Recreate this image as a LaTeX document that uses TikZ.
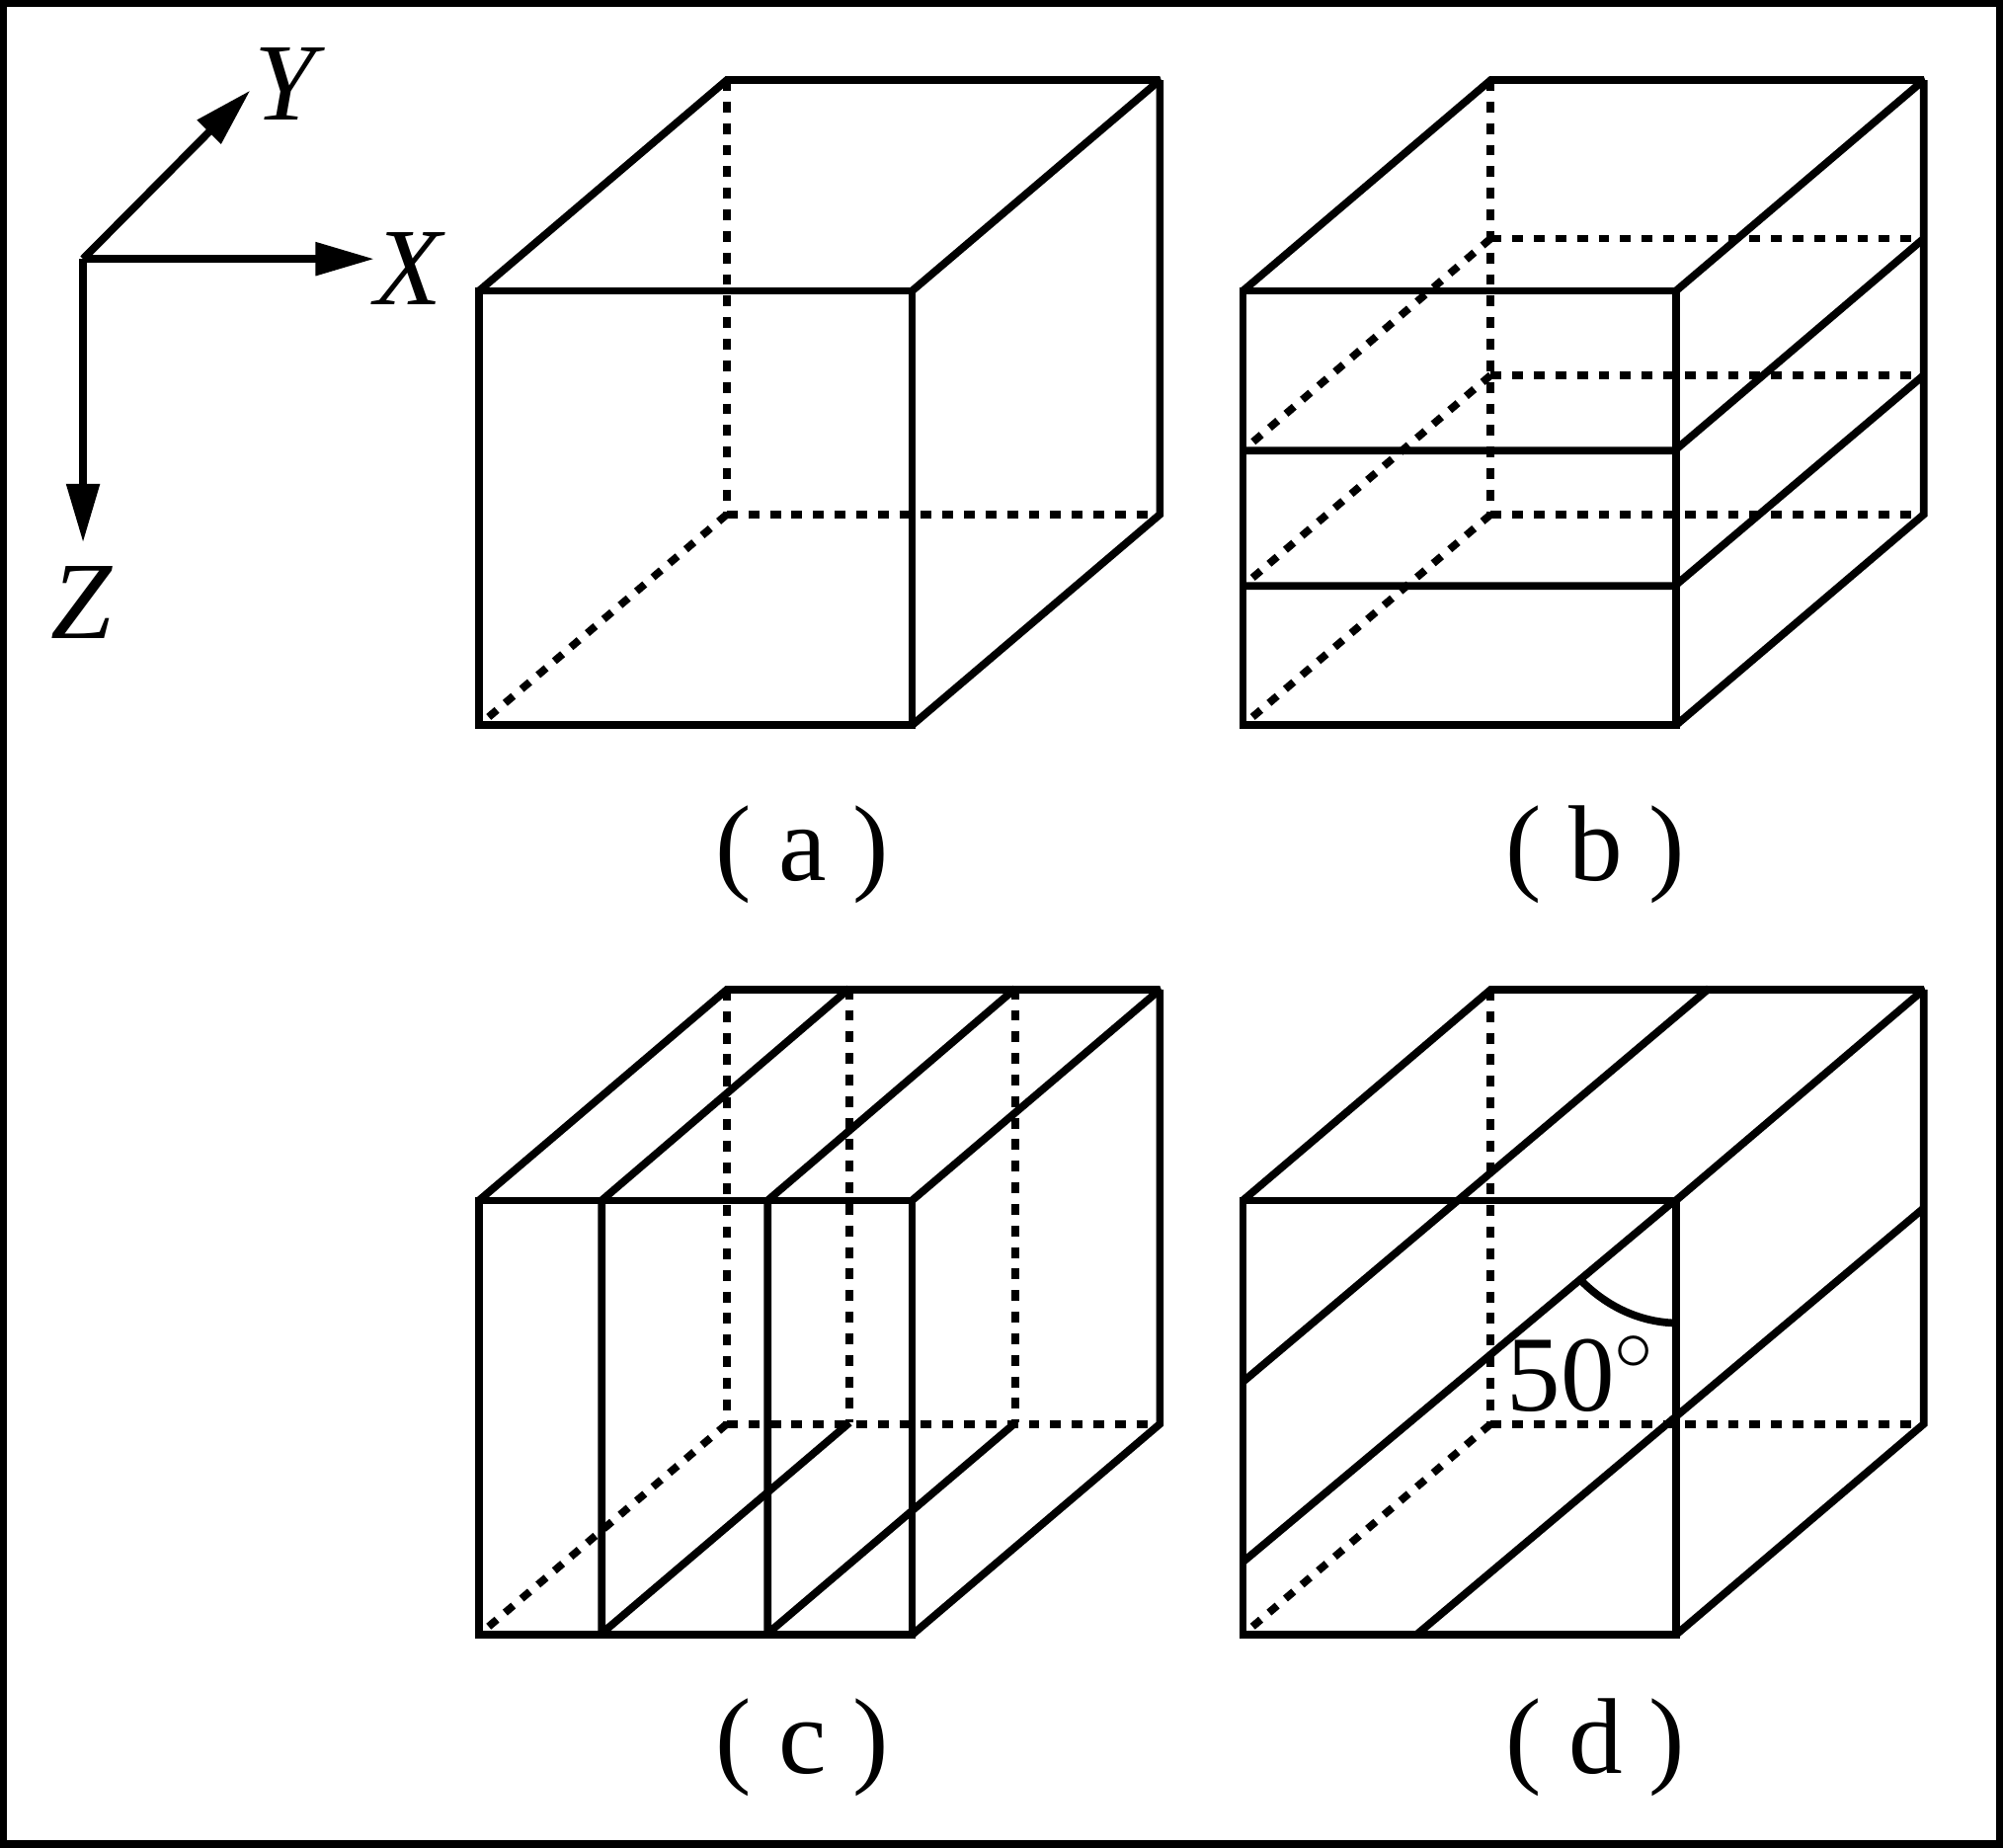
\documentclass[tikz,border=0pt]{standalone}
\usepackage{fontspec}
\setmainfont{Liberation Serif}
\usetikzlibrary{arrows.meta}
\tikzset{
  edge/.style={line width=1.7pt, miter limit=2},
  hidden/.style={line width=1.7pt, dash pattern=on 2.4pt off 2.4pt},
  axis/.style={line width=1.7pt, -{Triangle[length=0.46cm, width=0.25cm]}},
  axislabel/.style={font=\fontsize{24.5}{30}\selectfont\itshape, inner sep=0pt},
  caption/.style={font=\fontsize{24}{30}\selectfont, inner sep=0pt}
}
\begin{document}
\begin{tikzpicture}[x=0.01cm, y=-0.01cm]
    \useasboundingbox (0,-0.7) rectangle (1568,1445.3);

    % Frame
    \draw[line width=1.7pt] (2.5,1.8) rectangle (1565.5,1442.8);

    % Axes
    \coordinate (origin) at (65,202);
    \coordinate (xtip) at (293,202);
    \coordinate (ytip) at (196,70);
    \coordinate (ztip) at (65,424);
    \draw[axis] (origin) -- (xtip);
    \draw[axis] (origin) -- (ytip);
    \draw[axis] (origin) -- (ztip);
    \node[axislabel] (xlabel) at (320,210) {X};
    \node[axislabel] (ylabel) at (223,65) {Y};
    \node[axislabel] (zlabel) at (64,471) {Z};

    % The four cubes
    \foreach \dx/\dy in {0/0, 598/0, 0/712, 598/712} {
        \begin{scope}[shift={(\dx,\dy)}]
            \draw[hidden] (569,62) -- (569,402);
            \draw[hidden] (569,402) -- (908,402);
            \draw[hidden] (569,402) -- (375,567);
            \draw[edge] (375,227) rectangle (714,567);
            \draw[edge] (375,227) -- (569,62) -- (908,62) -- (714,227);
            \draw[edge] (908,62) -- (908,402) -- (714,567);
        \end{scope}
    }

    % (b) horizontal layers
    \foreach \yf/\yb in {352/186, 458/293} {
        \draw[hidden] (1167,\yb) -- (1506,\yb);
        \draw[hidden] (1167,\yb) -- (973,\yf);
        \draw[edge] (973,\yf) -- (1311,\yf) -- (1506,\yb);
    }

    % (c) vertical layers
    \foreach \xf/\xb in {471/665, 601/795} {
        \draw[hidden] (\xb,773) -- (\xb,1113);
        \draw[edge] (\xb,773) -- (\xf,939) -- (\xf,1278) -- (\xb,1113);
    }

    % (d) inclined layers
    \draw[edge] (973,1081) -- (1338,773);
    \draw[edge] (973,1222) -- (1311,939);
    \draw[edge] (1110,1278) -- (1506,945);
    \draw[edge] (1238,1002) .. controls (1258,1022) and (1283,1034) .. (1311,1035);
    \node[caption] (angle) at (1238,1075) {50$^{\circ}$};

    % Captions
    \node[caption] (capa) at (628,668) {( a )};
    \node[caption] (capb) at (1249,668) {( b )};
    \node[caption] (capc) at (628,1367) {( c )};
    \node[caption] (capd) at (1249,1367) {( d )};
\end{tikzpicture}
\end{document}
